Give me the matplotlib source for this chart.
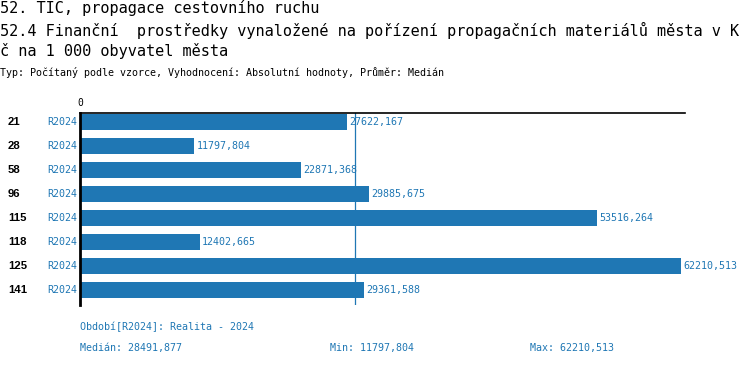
import matplotlib.pyplot as plt

categories = ['21', '28', '58', '96', '115', '118', '125', '141']
periods = ['R2024'] * 8
values = [27622.167, 11797.804, 22871.368, 29885.675, 53516.264, 12402.665, 62210.513, 29361.588]
median = 28491.877
vmin = 11797.804
vmax = 62210.513

blue = '#1f77b4'
mono = 'DejaVu Sans Mono'


def fmt(v):
    return f'{v:.3f}'.replace('.', ',')


fig = plt.figure(figsize=(7.5, 3.66), dpi=100)
W, H = 750, 366
ax = fig.add_axes([80 / W, 1 - 305 / H, 605 / W, 192 / H])

y = list(range(len(categories)))
ax.barh(y, values, height=0.667, color=blue)
ax.set_ylim(len(categories) - 0.375, -0.375)
ax.set_xlim(0, 62620)

for yi, v in zip(y, values):
    ax.text(v + 250, yi, fmt(v), va='center', ha='left', color=blue,
            fontsize=7.2, family=mono)

ax.axvline(median, color=blue, lw=0.9)

for s in ['right', 'bottom']:
    ax.spines[s].set_visible(False)
ax.spines['top'].set_linewidth(1.2)
ax.spines['left'].set_linewidth(2)
ax.set_xticks([])
ax.set_yticks([])

# category and period labels
for yi, c, p in zip(y, categories, periods):
    fig.text(8 / W, 1 - (122 + 24 * yi) / H, c, ha='left', va='center',
             fontsize=8.2, fontweight='bold', family='Liberation Sans')
    ax.text(-0.005, yi, p, transform=ax.get_yaxis_transform(), ha='right', va='center',
            color=blue, fontsize=7.2, family=mono)

fig.text(80 / W, 1 - 103 / H, '0', ha='center', va='center', fontsize=7, family=mono)

# titles
fig.text(0, 1 - 8 / H, '52. TIC, propagace cestovního ruchu', ha='left', va='center',
         fontsize=11, family=mono)
fig.text(0, 1 - 30 / H, '52.4 Finanční  prostředky vynaložené na pořízení propagačních materiálů města v K',
         ha='left', va='center', fontsize=11, family=mono)
fig.text(0, 1 - 51 / H, 'č na 1 000 obyvatel města', ha='left', va='center',
         fontsize=11, family=mono)
fig.text(0, 1 - 73 / H, 'Typ: Počítaný podle vzorce, Vyhodnocení: Absolutní hodnoty, Průměr: Medián',
         ha='left', va='center', fontsize=7.2, family=mono)

# footer
fig.text(80 / W, 1 - 327 / H, 'Období[R2024]: Realita - 2024', ha='left', va='center',
         color=blue, fontsize=7.2, family=mono)
fig.text(80 / W, 1 - 348 / H, 'Medián: ' + fmt(median), ha='left', va='center',
         color=blue, fontsize=7.2, family=mono)
fig.text(330 / W, 1 - 348 / H, 'Min: ' + fmt(vmin), ha='left', va='center',
         color=blue, fontsize=7.2, family=mono)
fig.text(530 / W, 1 - 348 / H, 'Max: ' + fmt(vmax), ha='left', va='center',
         color=blue, fontsize=7.2, family=mono)

fig.savefig('out.png', dpi=100)
